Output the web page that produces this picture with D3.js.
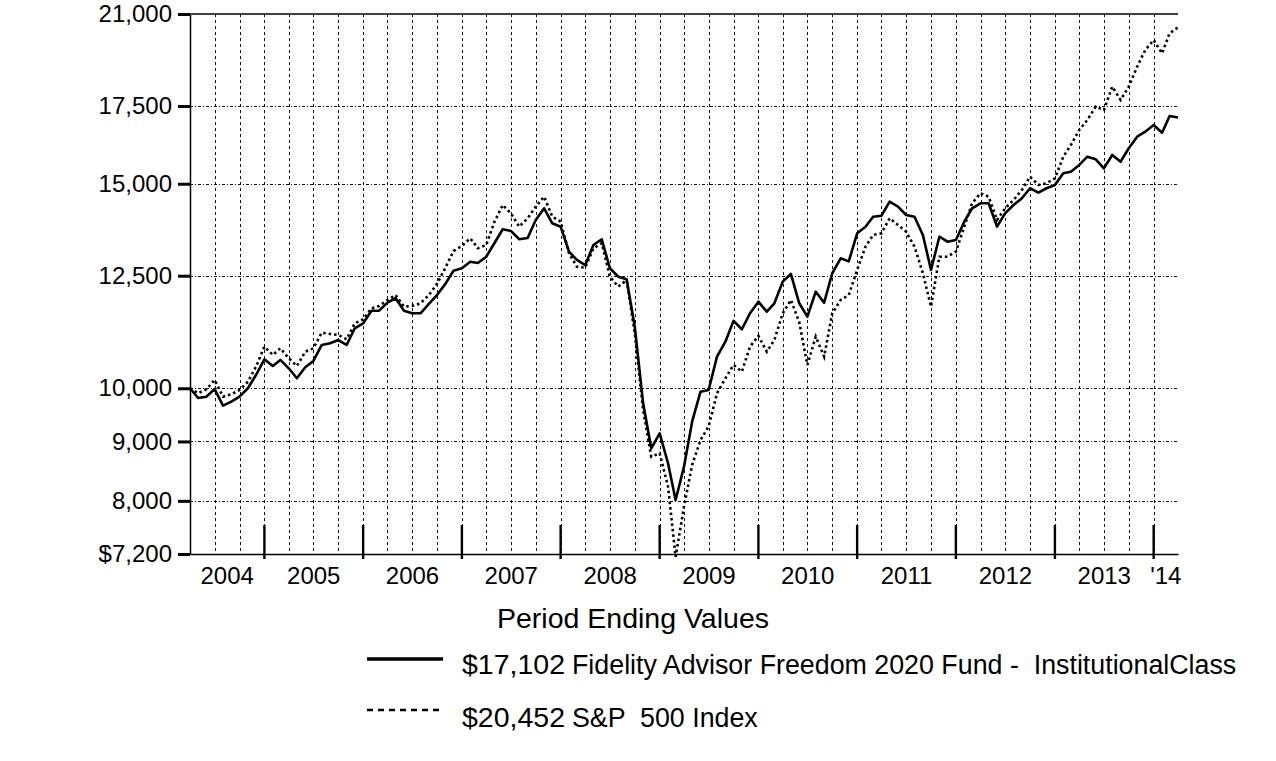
<!DOCTYPE html>
<html>
<head>
<meta charset="utf-8">
<script src="https://cdn.jsdelivr.net/npm/d3@7/dist/d3.min.js"></script>
<style>
  html, body { margin: 0; padding: 0; background: #fff; }
  svg { display: block; }
  text { font-family: "Liberation Sans", Arial, Helvetica, sans-serif; fill: #000; }
</style>
</head>
<body>
<svg id="chart" width="1276" height="761"></svg>
<script>
// ---------------- DATA ----------------
// Period: month-end values, Mar 31 2004 .. Mar 31 2014 (dates stored as first day of following month)
const periodStart = new Date(2004, 3, 1);   // = end of Mar 2004
const periodEnd   = new Date(2014, 3, 1);   // = end of Mar 2014
const periods = d3.timeMonth.range(periodStart, d3.timeMonth.offset(periodEnd, 1));

const fundName = "Fidelity Advisor Freedom 2020 Fund -  InstitutionalClass";
const indexName = "S&P  500 Index";
const fundEnding = "$17,102";
const indexEnding = "$20,452";

const fundValues = [
  10000, 9809, 9835, 9985, 9662, 9738, 9835, 10000, 10267, 10592,
  10452, 10578, 10404, 10200, 10424, 10557, 10897, 10933, 11004, 10897, 11263, 11374,
  11663, 11663, 11850, 11954, 11663, 11603, 11603, 11819, 12031, 12300, 12625, 12686,
  12852, 12820, 12980, 13331, 13705, 13660, 13436, 13470, 13961, 14288, 13869, 13776,
  13110, 12896, 12768, 13285, 13436, 12686, 12476, 12411, 11299, 9706, 8878, 9146,
  8619, 8013, 8561, 9360, 9933, 9966, 10647, 10968, 11430, 11241, 11603, 11873,
  11640, 11835, 12354, 12543, 11835, 11525, 12110, 11850, 12561, 12940, 12860, 13597,
  13776, 14051, 14080, 14475, 14333, 14099, 14051, 13551, 12644, 13505, 13372, 13417,
  13913, 14288, 14430, 14430, 13776, 14146, 14381, 14574, 14866, 14737, 14866, 14963,
  15313, 15363, 15569, 15826, 15745, 15467, 15880, 15670, 16092, 16466, 16630, 16852,
  16597, 17157, 17102
];

const indexValues = [
  10000, 9902, 9980, 10166, 9835, 9883, 9966, 10131, 10438, 10860,
  10683, 10825, 10614, 10452, 10752, 10825, 11166, 11137, 11115, 11021, 11374, 11466,
  11718, 11772, 11913, 12031, 11755, 11772, 11835, 12031, 12300, 12700, 13127, 13259,
  13463, 13198, 13285, 13904, 14381, 14146, 13776, 14007, 14333, 14620, 14055, 13913,
  13068, 12726, 12700, 13198, 13331, 12476, 12231, 12394, 11150, 9578, 8732, 8791,
  8228, 7160, 7909, 8589, 9026, 9268, 9902, 10200, 10473, 10335, 10860, 11093,
  10752, 11004, 11603, 11913, 11400, 10473, 11078, 10647, 11603, 11913, 12031, 12644,
  13241, 13551, 13597, 14007, 13822, 13640, 13241, 12561, 11755, 12980, 12980, 13110,
  13776, 14430, 14720, 14620, 13961, 14288, 14524, 14816, 15210, 14963, 15015, 15162,
  15826, 16197, 16687, 17021, 17476, 17361, 18182, 17709, 18182, 18917, 19553, 19945,
  19425, 20213, 20452
];

const yTickValues = [7200, 8000, 9000, 10000, 12500, 15000, 17500, 21000];
const yTickLabels = ["$7,200", "8,000", "9,000", "10,000", "12,500", "15,000", "17,500", "21,000"];
const yearLabels = ["2004", "2005", "2006", "2007", "2008", "2009", "2010", "2011", "2012", "2013", "'14"];

// ---------------- LAYOUT ----------------
const plotLeft = 190, plotRight = 1178, plotTop = 14, plotBottom = 554;
const svg = d3.select("#chart");
svg.append("rect").attr("width", 1276).attr("height", 761).attr("fill", "#fff");

const x = d3.scaleTime().domain([periodStart, periodEnd]).range([plotLeft, plotRight]);
const y = d3.scaleLog().domain([7200, 21000]).range([plotBottom, plotTop]);

// Gridlines
const grid = svg.append("g");
const quarterTicks = d3.timeMonth.every(3).range(d3.timeDay.offset(periodStart, 1), periodEnd);
grid.selectAll("line.vg").data(quarterTicks).enter().append("line")
  .attr("x1", d => Math.round(x(d)) + 0.5).attr("x2", d => Math.round(x(d)) + 0.5)
  .attr("y1", plotTop).attr("y2", plotBottom)
  .attr("stroke", "#111").attr("stroke-width", 1).attr("stroke-dasharray", "3,3");

grid.selectAll("line.hg").data(yTickValues.filter(v => v !== 7200 && v !== 21000)).enter().append("line")
  .attr("x1", plotLeft).attr("x2", plotRight)
  .attr("y1", d => Math.round(y(d)) + 0.5).attr("y2", d => Math.round(y(d)) + 0.5)
  .attr("stroke", "#111").attr("stroke-width", 1).attr("stroke-dasharray", "3,2,1,2");

// Top border
svg.append("line").attr("x1", plotLeft).attr("x2", plotRight).attr("y1", plotTop).attr("y2", plotTop)
  .attr("stroke", "#000").attr("stroke-width", 1.3);

// Y axis
const yAxis = d3.axisLeft(y).tickValues(yTickValues)
  .tickFormat((d, i) => yTickLabels[i]).tickSize(12).tickSizeOuter(0).tickPadding(6);
const gy = svg.append("g").attr("transform", `translate(${plotLeft},0)`).call(yAxis);
gy.select(".domain").attr("stroke", "#000").attr("stroke-width", 1.5);
gy.selectAll(".tick line").attr("stroke", "#000").attr("stroke-width", 3);
gy.selectAll(".tick text").attr("font-size", 24).attr("fill", "#000")
  .attr("font-family", "'Liberation Sans', Arial, sans-serif");

// X axis (line only)
const xAxis = d3.axisBottom(x).tickValues([]).tickSizeOuter(0);
const gx = svg.append("g").attr("transform", `translate(0,${plotBottom})`).call(xAxis);
gx.select(".domain").attr("stroke", "#000").attr("stroke-width", 1.5);

// Year boundary ticks
const yearStarts = d3.timeYear.range(d3.timeDay.offset(periodStart, 1), periodEnd);
svg.append("g").selectAll("line").data(yearStarts).enter().append("line")
  .attr("x1", d => x(d)).attr("x2", d => x(d))
  .attr("y1", 525).attr("y2", 559)
  .attr("stroke", "#000").attr("stroke-width", 2.4);

// Year labels centered in their span
const bounds = [periodStart].concat(yearStarts, [periodEnd]);
svg.append("g").selectAll("text").data(yearLabels).enter().append("text")
  .attr("x", (d, i) => (x(bounds[i]) + x(bounds[i + 1])) / 2)
  .attr("y", 584)
  .attr("text-anchor", "middle")
  .attr("font-size", 24)
  .text(d => d);

// Lines
const line = d3.line().x((d, i) => x(periods[i])).y(d => y(d));
svg.append("path").datum(indexValues).attr("d", line)
  .attr("fill", "none").attr("stroke", "#000").attr("stroke-width", 2.6)
  .attr("stroke-dasharray", "2.5,3");
svg.append("path").datum(fundValues).attr("d", line)
  .attr("fill", "none").attr("stroke", "#000").attr("stroke-width", 2.6)
  .attr("stroke-linejoin", "round");

// Title
svg.append("text").attr("x", 633).attr("y", 628).attr("text-anchor", "middle")
  .attr("font-size", 28.5).text("Period Ending Values");

// Legend
const legend = svg.append("g");
legend.append("line").attr("x1", 367).attr("x2", 443).attr("y1", 659).attr("y2", 659)
  .attr("stroke", "#000").attr("stroke-width", 3.5);
legend.append("text").attr("x", 462).attr("y", 674).attr("font-size", 28.5).text(fundEnding);
legend.append("text").attr("x", 572).attr("y", 674).attr("font-size", 26.8)
  .style("white-space", "pre").text(fundName);

legend.append("line").attr("x1", 367).attr("x2", 441).attr("y1", 710).attr("y2", 710)
  .attr("stroke", "#000").attr("stroke-width", 2.5).attr("stroke-dasharray", "6,5");
legend.append("text").attr("x", 462).attr("y", 727).attr("font-size", 28.5).text(indexEnding);
legend.append("text").attr("x", 572).attr("y", 727).attr("font-size", 26.8)
  .style("white-space", "pre").text(indexName);
</script>
</body>
</html>
